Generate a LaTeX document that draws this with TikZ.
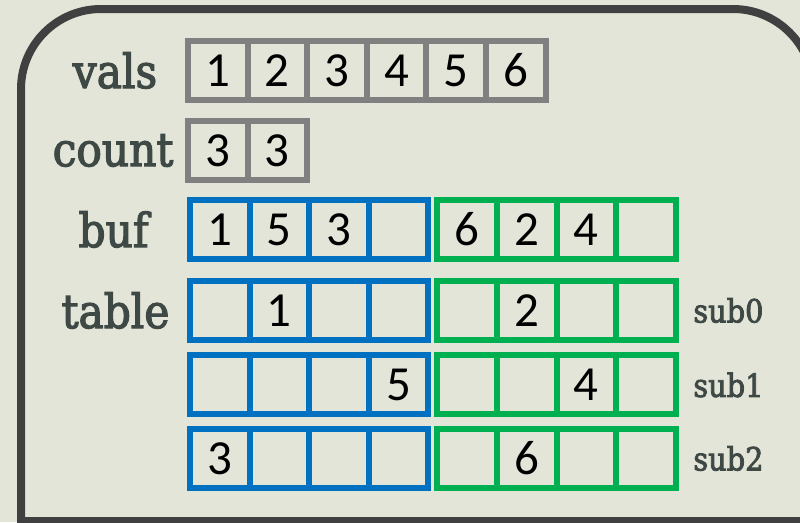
\documentclass[tikz,border=0pt]{standalone}
\usepackage{fontspec}
\setmainfont{Carlito}
\newfontfamily\seriflabel[FakeBold=2.5]{DejaVu Serif Condensed}
\usetikzlibrary{positioning}
\definecolor{bgpaper}{RGB}{227,229,216}
\definecolor{framegray}{RGB}{64,64,64}
\definecolor{cellgray}{RGB}{128,128,128}
\definecolor{cellblue}{RGB}{0,112,192}
\definecolor{cellgreen}{RGB}{0,176,80}
\definecolor{labelgray}{RGB}{62,72,69}

\begin{document}
\begin{tikzpicture}[
  x=0.75pt,y=-0.75pt,
  cell/.style={draw,line width=4.5pt,outer sep=0pt,inner sep=0pt,
               minimum width=44.7pt,minimum height=44.25pt,
               font=\fontsize{36.75}{40}\selectfont},
  graycell/.style={cell,draw=cellgray},
  bluecell/.style={cell,draw=cellblue},
  greencell/.style={cell,draw=cellgreen},
  varname/.style={inner sep=0pt,text=labelgray,font=\seriflabel\fontsize{35.25}{40}\selectfont},
  subname/.style={inner sep=0pt,text=labelgray,font=\seriflabel\fontsize{24}{28}\selectfont},
  outline/.style={draw=framegray,line width=6pt}
]
\fill[bgpaper] (0,0) rectangle (800,522);
\useasboundingbox (0,0) rectangle (800,522);
\clip (0,0) rectangle (800,522);
\draw[outline] (813,521) -- (21,521) -- (21,200) [rounded corners=60pt] -- (21,9) -- (813,9) -- (813,530);

% vals
\node[graycell] (v1) at (217.8,70.5) {1};
\node[graycell,right=0pt of v1] (v2) {2};
\node[graycell,right=0pt of v2] (v3) {3};
\node[graycell,right=0pt of v3] (v4) {4};
\node[graycell,right=0pt of v4] (v5) {5};
\node[graycell,right=0pt of v5] (v6) {6};
\node[varname] (lvals) at (115,70.5) {vals};

% count
\node[graycell,below=15.75pt of v1] (c1) {3};
\node[graycell,right=0pt of c1] (c2) {3};
\node[varname] (lcount) at (113,150.5) {count};

% buf
\node[bluecell,below=15pt of c1,xshift=1.5pt] (b1) {1};
\node[bluecell,right=0pt of b1] (b2) {5};
\node[bluecell,right=0pt of b2] (b3) {3};
\node[bluecell,right=0pt of b3] (b4) {};
\node[greencell,right=6.75pt of b4] (b5) {6};
\node[greencell,right=0pt of b5] (b6) {2};
\node[greencell,right=0pt of b6] (b7) {4};
\node[greencell,right=0pt of b7] (b8) {};
\node[varname] (lbuf) at (113.5,229.5) {buf};

% table, sub0
\node[bluecell,below=16.5pt of b1] (t01) {};
\node[bluecell,right=0pt of t01] (t02) {1};
\node[bluecell,right=0pt of t02] (t03) {};
\node[bluecell,right=0pt of t03] (t04) {};
\node[greencell,right=6.75pt of t04] (t05) {};
\node[greencell,right=0pt of t05] (t06) {2};
\node[greencell,right=0pt of t06] (t07) {};
\node[greencell,right=0pt of t07] (t08) {};
\node[varname] (ltable) at (115.5,310.5) {table};
\node[subname,right=13pt of t08] (sub0) {sub0};

% sub1
\node[bluecell,below=11.6pt of t01] (t11) {};
\node[bluecell,right=0pt of t11] (t12) {};
\node[bluecell,right=0pt of t12] (t13) {};
\node[bluecell,right=0pt of t13] (t14) {5};
\node[greencell,right=6.75pt of t14] (t15) {};
\node[greencell,right=0pt of t15] (t16) {};
\node[greencell,right=0pt of t16] (t17) {4};
\node[greencell,right=0pt of t17] (t18) {};
\node[subname,right=13pt of t18] (sub1) {sub1};

% sub2
\node[bluecell,below=10.9pt of t11] (t21) {3};
\node[bluecell,right=0pt of t21] (t22) {};
\node[bluecell,right=0pt of t22] (t23) {};
\node[bluecell,right=0pt of t23] (t24) {};
\node[greencell,right=6.75pt of t24] (t25) {};
\node[greencell,right=0pt of t25] (t26) {6};
\node[greencell,right=0pt of t26] (t27) {};
\node[greencell,right=0pt of t27] (t28) {};
\node[subname,right=13pt of t28] (sub2) {sub2};
\end{tikzpicture}
\end{document}
